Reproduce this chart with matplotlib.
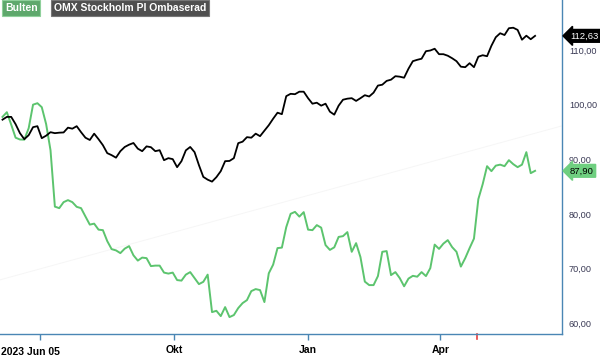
import matplotlib
matplotlib.use("Agg")
import matplotlib.pyplot as plt
import matplotlib.transforms as mtransforms
import pandas as pd

plt.rcParams["font.family"] = ["Liberation Sans", "DejaVu Sans"]

# one point every third calendar day, 2023-06-05 .. 2024-06-05
dates = pd.date_range("2023-06-05", periods=123, freq="3D")

omx = [
    97.27, 97.78, 97.78, 96.45, 94.80, 93.70, 94.43, 95.90, 96.08, 93.88,
    94.34, 94.98, 94.80, 94.89, 94.93, 95.81, 95.62, 96.08, 94.98, 93.97,
    93.55, 94.71, 93.70, 92.60, 91.14, 90.77, 90.31, 91.50, 92.27, 92.69,
    93.00, 91.96, 91.50, 92.38, 92.23, 91.50, 91.68, 89.85, 90.22, 90.04,
    88.57, 89.67, 91.65, 92.27, 91.32, 88.94, 86.79, 86.28, 85.92, 86.74,
    87.84, 89.67, 89.71, 90.22, 92.97, 93.24, 94.07, 93.97, 94.71, 94.25,
    95.26, 96.26, 97.45, 98.55, 98.28, 101.58, 102.01, 101.94, 102.40, 102.40,
    101.21, 100.20, 100.38, 99.84, 100.20, 98.74, 98.19, 99.84, 100.93, 101.12,
    101.21, 100.71, 101.21, 101.76, 101.52, 102.22, 103.52, 103.68, 104.38, 104.60,
    105.24, 105.15, 104.96, 106.61, 107.99, 108.24, 108.44, 109.82, 109.95, 110.27,
    109.27, 109.27, 108.99, 108.53, 107.99, 106.98, 106.89, 107.62, 106.89, 108.81,
    109.08, 108.90, 110.82, 112.38, 113.11, 112.78, 114.03, 114.12, 113.72, 111.92,
    112.66, 112.01, 112.63,
]

bulten = [
    97.78, 98.64, 96.36, 93.97, 93.64, 93.61, 95.71, 100.02, 100.29, 99.56,
    96.45, 91.68, 81.34, 81.06, 82.16, 82.53, 82.16, 81.30, 81.06, 79.54,
    78.04, 78.22, 77.12, 77.03, 75.02, 73.55, 73.32, 72.82, 73.64, 74.10,
    72.42, 71.45, 72.00, 71.90, 70.44, 70.53, 70.53, 69.25, 69.07, 69.25,
    67.88, 67.78, 68.88, 69.34, 68.24, 67.14, 67.56, 68.88, 62.01, 62.25,
    61.28, 62.93, 61.10, 61.47, 62.75, 63.66, 64.21, 65.86, 66.23, 66.04,
    63.85, 69.12, 70.71, 73.74, 73.83, 77.58, 80.02, 80.38, 79.51, 80.33,
    77.12, 77.03, 77.95, 77.49, 74.29, 73.41, 73.88, 75.79, 75.93, 76.67,
    73.06, 74.65, 72.09, 67.60, 66.96, 66.96, 68.61, 73.06, 73.19, 68.79,
    69.34, 68.24, 66.74, 68.15, 68.66, 68.50, 69.34, 68.61, 70.07, 74.38,
    73.59, 74.56, 75.20, 73.92, 73.06, 70.35, 71.90, 73.74, 75.48, 82.71,
    85.46, 88.75, 87.84, 88.85, 89.03, 88.75, 89.85, 89.12, 88.57, 89.03,
    91.32, 87.47, 87.90,
]

trend_dates = pd.to_datetime(["2023-06-03", "2024-06-23"])
trend_vals = [67.9, 96.1]

tick_dates = pd.to_datetime(["2023-07-01", "2023-10-01", "2024-01-01", "2024-04-01"])
tick_labels = ["", "Okt", "Jan", "Apr"]
report_date = pd.Timestamp("2024-04-26")
yticks = [60, 70, 80, 90, 100, 110]

green = "#5cc46e"
frame = "#4a86b4"

fig = plt.figure(figsize=(6, 3.58), dpi=100)
ax = fig.add_axes([0.0, 24 / 358, 562 / 600, 334 / 358])

ax.plot(trend_dates, trend_vals, color="#f6f6f6", lw=0.7, zorder=0)
ax.plot(dates, bulten, color=green, lw=1.4, zorder=2)
ax.plot(dates, omx, color="black", lw=1.3, zorder=3)

ax.set_xlim(pd.Timestamp("2023-06-03 07:00"), pd.Timestamp("2024-06-23 12:00"))
ax.set_ylim(58.0, 119.2)

for s in ["left", "top"]:
    ax.spines[s].set_visible(False)
for s in ["right", "bottom"]:
    ax.spines[s].set_color(frame)
    ax.spines[s].set_linewidth(1.0)

ax.yaxis.tick_right()
ax.set_yticks(yticks)
ax.set_yticklabels([f"{v:.2f}".replace(".", ",") for v in yticks])
ax.tick_params(axis="y", length=0, pad=5, labelsize=6.6, labelcolor="#3a3a55")

ax.set_xticks(tick_dates)
ax.set_xticklabels(tick_labels, fontweight="bold")
ax.tick_params(axis="x", length=4, width=1, color=frame, pad=4, labelsize=7.5)

# red marker tick on the time axis
ax.plot([report_date, report_date], [0, -0.015], color="#e84040", lw=1.2,
        transform=mtransforms.blended_transform_factory(ax.transData, ax.transAxes),
        clip_on=False)

fig.text(0.002, 6 / 358, "2023 Jun 05", fontsize=7.5, fontweight="bold",
         ha="left", va="center")

# legend boxes
fig.text(5 / 600, 1 - 8 / 358, "Bulten", fontsize=7.5, fontweight="bold", color="white",
         ha="left", va="center",
         bbox=dict(boxstyle="square,pad=0.25", fc="#5ea86c", ec="#8fd09b", lw=0.8))
fig.text(54 / 600, 1 - 8 / 358, "OMX Stockholm PI Ombaserad", fontsize=7.5,
         fontweight="bold", color="white", ha="left", va="center",
         bbox=dict(boxstyle="square,pad=0.25", fc="#4f4f4f", ec="#777777", lw=0.8))

# last-value badges
tr = mtransforms.blended_transform_factory(ax.transAxes, ax.transData)
ax.text(1.014, omx[-1], f"{omx[-1]:.2f}".replace(".", ","), transform=tr,
        fontsize=6.8, color="white", ha="left", va="center", clip_on=False,
        bbox=dict(boxstyle="larrow,pad=0.2", fc="black", ec="black"))
ax.text(1.014, bulten[-1], f"{bulten[-1]:.2f}".replace(".", ","), transform=tr,
        fontsize=6.8, color="black", ha="left", va="center", clip_on=False,
        bbox=dict(boxstyle="larrow,pad=0.2", fc="#6fcf80", ec="#6fcf80"))

fig.savefig("out.png", dpi=100)
